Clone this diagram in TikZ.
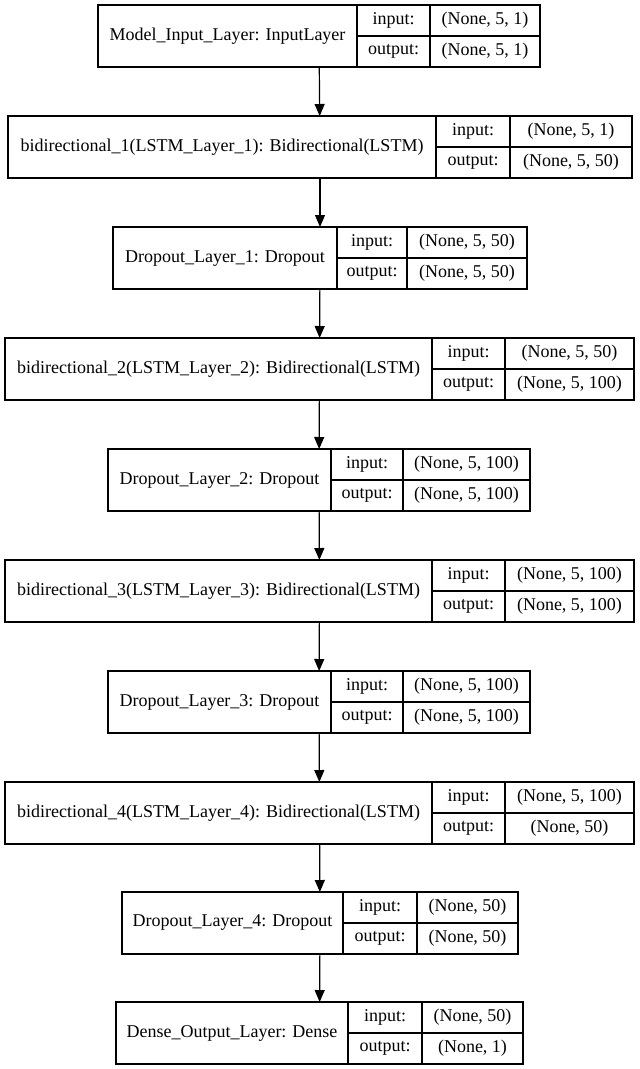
\documentclass[tikz,border=0pt]{standalone}
\usepackage{fontspec}
\setmainfont{Liberation Serif}
\usetikzlibrary{arrows.meta}
\tikzset{%
  myedge/.style={-{Triangle[length=12pt,width=10pt]}, line width=1.2pt},
  layerbox/.style={rectangle, draw=black, line width=1.2pt, minimum height=62pt, inner sep=0pt, outer sep=0pt},
  namecell/.style={rectangle, draw=black, line width=1.2pt, minimum height=62pt, inner sep=0pt, outer sep=0pt, anchor=west},
  iocell/.style={rectangle, draw=black, line width=1.2pt, minimum height=31pt, inner sep=0pt, outer sep=0pt, anchor=north west}
}

\begin{document}
\begin{tikzpicture}[x=1pt, y=-1pt, every node/.style={font=\rmfamily\fontsize{18}{21}\selectfont}]
  \useasboundingbox (0,0) rectangle (640,1069);

  \node[layerbox, minimum width=442pt] (l1) at (319,36) {};
  \node[namecell, minimum width=259pt] (l1n) at (l1.west) {Model\_Input\_Layer: InputLayer};
  \node[iocell, minimum width=73pt] (l1i) at (l1n.north east) {input:};
  \node[iocell, minimum width=73pt] (l1o) at (l1i.south west) {output:};
  \node[iocell, minimum width=110pt] (l1iv) at (l1i.north east) {(None, 5, 1)};
  \node[iocell, minimum width=110pt] (l1ov) at (l1o.north east) {(None, 5, 1)};

  \node[layerbox, minimum width=624pt] (l2) at (320,147) {};
  \node[namecell, minimum width=428pt] (l2n) at (l2.west) {bidirectional\_1(LSTM\_Layer\_1): Bidirectional(LSTM)};
  \node[iocell, minimum width=74pt] (l2i) at (l2n.north east) {input:};
  \node[iocell, minimum width=74pt] (l2o) at (l2i.south west) {output:};
  \node[iocell, minimum width=122pt] (l2iv) at (l2i.north east) {(None, 5, 1)};
  \node[iocell, minimum width=122pt] (l2ov) at (l2o.north east) {(None, 5, 50)};

  \node[layerbox, minimum width=414pt] (l3) at (320,258) {};
  \node[namecell, minimum width=224pt] (l3n) at (l3.west) {Dropout\_Layer\_1: Dropout};
  \node[iocell, minimum width=70pt] (l3i) at (l3n.north east) {input:};
  \node[iocell, minimum width=70pt] (l3o) at (l3i.south west) {output:};
  \node[iocell, minimum width=120pt] (l3iv) at (l3i.north east) {(None, 5, 50)};
  \node[iocell, minimum width=120pt] (l3ov) at (l3o.north east) {(None, 5, 50)};

  \node[layerbox, minimum width=629pt] (l4) at (319.5,369) {};
  \node[namecell, minimum width=427pt] (l4n) at (l4.west) {bidirectional\_2(LSTM\_Layer\_2): Bidirectional(LSTM)};
  \node[iocell, minimum width=73pt] (l4i) at (l4n.north east) {input:};
  \node[iocell, minimum width=73pt] (l4o) at (l4i.south west) {output:};
  \node[iocell, minimum width=129pt] (l4iv) at (l4i.north east) {(None, 5, 50)};
  \node[iocell, minimum width=129pt] (l4ov) at (l4o.north east) {(None, 5, 100)};

  \node[layerbox, minimum width=422pt] (l5) at (319,480) {};
  \node[namecell, minimum width=223pt] (l5n) at (l5.west) {Dropout\_Layer\_2: Dropout};
  \node[iocell, minimum width=72pt] (l5i) at (l5n.north east) {input:};
  \node[iocell, minimum width=72pt] (l5o) at (l5i.south west) {output:};
  \node[iocell, minimum width=127pt] (l5iv) at (l5i.north east) {(None, 5, 100)};
  \node[iocell, minimum width=127pt] (l5ov) at (l5o.north east) {(None, 5, 100)};

  \node[layerbox, minimum width=629pt] (l6) at (319.5,591) {};
  \node[namecell, minimum width=427pt] (l6n) at (l6.west) {bidirectional\_3(LSTM\_Layer\_3): Bidirectional(LSTM)};
  \node[iocell, minimum width=73pt] (l6i) at (l6n.north east) {input:};
  \node[iocell, minimum width=73pt] (l6o) at (l6i.south west) {output:};
  \node[iocell, minimum width=129pt] (l6iv) at (l6i.north east) {(None, 5, 100)};
  \node[iocell, minimum width=129pt] (l6ov) at (l6o.north east) {(None, 5, 100)};

  \node[layerbox, minimum width=422pt] (l7) at (319,702) {};
  \node[namecell, minimum width=223pt] (l7n) at (l7.west) {Dropout\_Layer\_3: Dropout};
  \node[iocell, minimum width=72pt] (l7i) at (l7n.north east) {input:};
  \node[iocell, minimum width=72pt] (l7o) at (l7i.south west) {output:};
  \node[iocell, minimum width=127pt] (l7iv) at (l7i.north east) {(None, 5, 100)};
  \node[iocell, minimum width=127pt] (l7ov) at (l7o.north east) {(None, 5, 100)};

  \node[layerbox, minimum width=629pt] (l8) at (319.5,813) {};
  \node[namecell, minimum width=427pt] (l8n) at (l8.west) {bidirectional\_4(LSTM\_Layer\_4): Bidirectional(LSTM)};
  \node[iocell, minimum width=73pt] (l8i) at (l8n.north east) {input:};
  \node[iocell, minimum width=73pt] (l8o) at (l8i.south west) {output:};
  \node[iocell, minimum width=129pt] (l8iv) at (l8i.north east) {(None, 5, 100)};
  \node[iocell, minimum width=129pt] (l8ov) at (l8o.north east) {(None, 50)};

  \node[layerbox, minimum width=396pt] (l9) at (320,923) {};
  \node[namecell, minimum width=221pt] (l9n) at (l9.west) {Dropout\_Layer\_4: Dropout};
  \node[iocell, minimum width=74pt] (l9i) at (l9n.north east) {input:};
  \node[iocell, minimum width=74pt] (l9o) at (l9i.south west) {output:};
  \node[iocell, minimum width=101pt] (l9iv) at (l9i.north east) {(None, 50)};
  \node[iocell, minimum width=101pt] (l9ov) at (l9o.north east) {(None, 50)};

  \node[layerbox, minimum width=407pt] (l10) at (319.5,1033) {};
  \node[namecell, minimum width=232pt] (l10n) at (l10.west) {Dense\_Output\_Layer: Dense};
  \node[iocell, minimum width=74pt] (l10i) at (l10n.north east) {input:};
  \node[iocell, minimum width=74pt] (l10o) at (l10i.south west) {output:};
  \node[iocell, minimum width=101pt] (l10iv) at (l10i.north east) {(None, 50)};
  \node[iocell, minimum width=101pt] (l10ov) at (l10o.north east) {(None, 1)};

  \draw [myedge] (l1) -- (l2);
  \draw [myedge] (l2) -- (l3);
  \draw [myedge] (l3) -- (l4);
  \draw [myedge] (l4) -- (l5);
  \draw [myedge] (l5) -- (l6);
  \draw [myedge] (l6) -- (l7);
  \draw [myedge] (l7) -- (l8);
  \draw [myedge] (l8) -- (l9);
  \draw [myedge] (l9) -- (l10);
\end{tikzpicture}
\end{document}
